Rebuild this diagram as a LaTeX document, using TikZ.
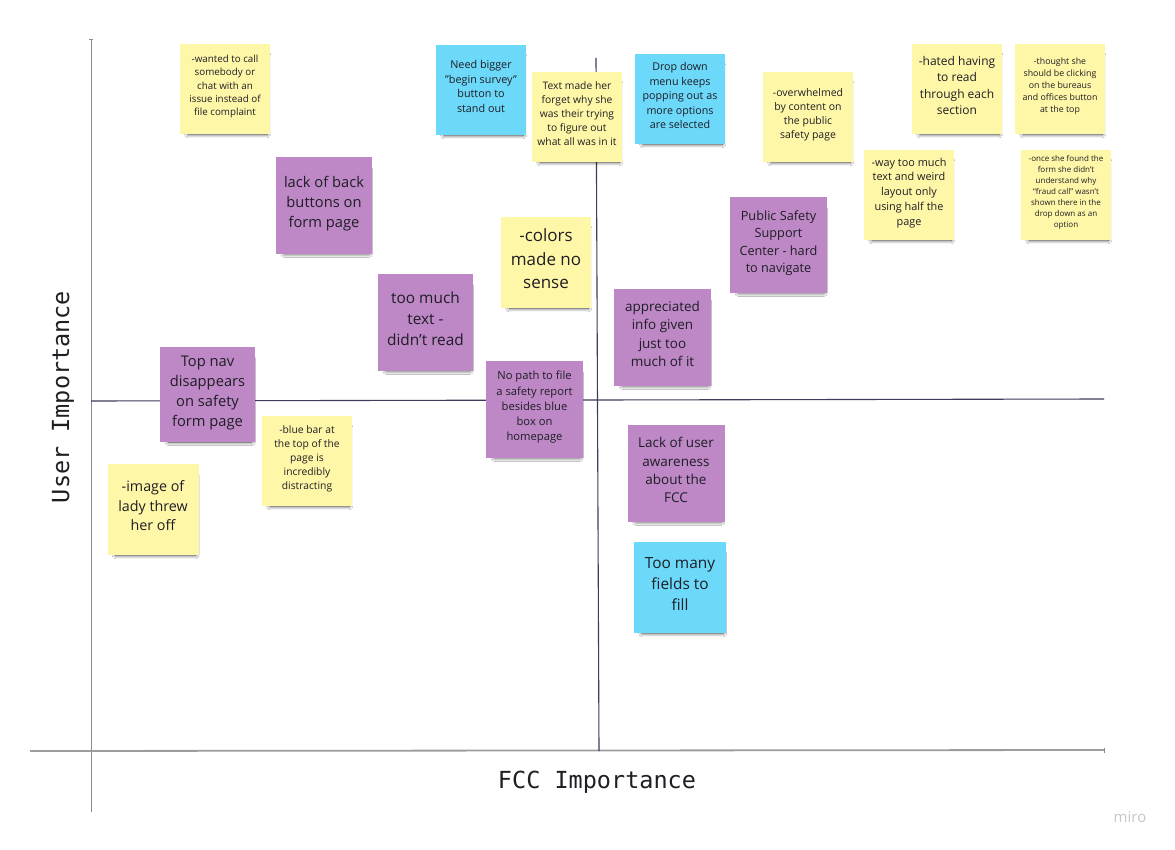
\documentclass[tikz,border=0pt]{standalone}
\usepackage{fontspec}
\setmainfont{Open Sans}
\newfontfamily\monof{DejaVu Sans Mono}
\usetikzlibrary{shadows.blur}
\definecolor{stkyellow}{HTML}{FFF7A8}
\definecolor{stkblue}{HTML}{6CD8FA}
\definecolor{stkviolet}{HTML}{BE88C7}
\definecolor{ink}{HTML}{1E1E24}
\definecolor{quadline}{HTML}{3C3C5C}
\definecolor{axisline}{HTML}{8A8A8A}
\newcommand{\sz}[2]{\fontsize{#1}{#2}\selectfont}
\newcommand{\sq}{\symbol{34}}
\newcommand{\ap}{\symbol{39}}
\tikzset{
  sticky/.style={minimum width=90pt, minimum height=90pt, inner sep=0pt,
    align=center, text=ink, text depth=7pt,
    blur shadow={shadow xshift=3pt, shadow yshift=-6.5pt, shadow scale=0.88,
      shadow opacity=80, shadow blur steps=8, shadow blur radius=4pt}},
  ylw/.style={sticky, fill=stkyellow},
  blu/.style={sticky, fill=stkblue},
  vio/.style={sticky, fill=stkviolet},
  quad/.style={draw=quadline, line width=1.1pt},
  axis/.style={draw=axisline, line width=1pt},
  axislabel/.style={font=\monof\fontsize{23.5}{26}\selectfont, text=ink}
}
\begin{document}
\begin{tikzpicture}[x=1pt,y=-1pt]
\useasboundingbox (0,0) rectangle (1175,850);
\fill[white] (0,0) rectangle (1175,850);

% axes
\coordinate (vtop) at (91,40);
\coordinate (vbot) at (91,812);
\coordinate (hleft) at (30,751);
\coordinate (hright) at (1104,750);
\draw[axis] (vtop) -- (vbot);
\draw[axis] ([xshift=-2pt]vtop) -- ([xshift=2pt]vtop);
\draw[axis, line width=1.8pt, draw=axisline!85] (hleft) -- (hright);
\draw[axis] ([yshift=-2.5pt]hright) -- ([yshift=2.5pt]hright);

% quadrant lines
\coordinate (qtop) at (596,58);
\coordinate (qbot) at (599,751);
\coordinate (qleft) at (91,401);
\coordinate (qright) at (1104,399);
\draw[quad] (qtop) -- (qbot);
\draw[quad] (qleft) -- (qright);

% axis labels
\node[axislabel, rotate=90] (ylab) at (63,397) {User Importance};
\node[axislabel] (xlab) at (597,782) {FCC Importance};
\node[text=black!22, font=\sz{15}{17}] (miro) at (1130,817) {miro};

% stickies
\node[ylw, font=\sz{9.8}{13.3}] (s1) at (225,89) {-wanted to call\\somebody or\\chat with an\\issue instead of\\file complaint};
\node[blu, font=\sz{10.8}{14.7}] (s2) at (481,90) {Need bigger\\\sq begin survey\sq\\button to\\stand out};
\node[ylw, font=\sz{10.3}{14}] (s3) at (577,117) {Text made her\\forget why she\\was their trying\\to figure out\\what all was in it};
\node[blu, font=\sz{10.7}{14.5}] (s4) at (680,99) {Drop down\\menu keeps\\popping out as\\more options\\are selected};
\node[ylw, font=\sz{10.5}{14.3}] (s5) at (808,117) {-overwhelmed\\by content on\\the public\\safety page};
\node[ylw, font=\sz{12}{16.3}] (s6) at (957,89) {-hated having\\to read\\through each\\section};
\node[ylw, font=\sz{8.8}{12}] (s7) at (1060,89) {-thought she\\should be clicking\\on the bureaus\\and offices button\\at the top};
\node[ylw, font=\sz{10.9}{14.8}] (s8) at (909,195) {-way too much\\text and weird\\layout only\\using half the\\page};
\node[ylw, font=\sz{8}{11}] (s9) at (1066,195) {-once she found the\\form she didn’t\\understand why\\“fraud call” wasn’t\\shown there in the\\drop down as an\\option};
\node[vio, minimum width=97pt, minimum height=96pt, font=\sz{12.7}{17.3}] (s10) at (778.5,245) {Public Safety\\Support\\Center - hard\\to navigate};
\node[vio, minimum width=96pt, minimum height=97pt, font=\sz{14.7}{20}] (s11) at (324,205.5) {lack of back\\buttons on\\form page};
\node[ylw, minimum height=91pt, font=\sz{17}{23.5}] (s12) at (546,262.5) {-colors\\made no\\sense};
\node[vio, minimum width=95pt, minimum height=97pt, font=\sz{15.4}{21}] (s13) at (425.5,322.5) {too much\\text -\\didn\ap t read};
\node[vio, minimum width=97pt, minimum height=97pt, font=\sz{13.5}{18.3}] (s14) at (662.5,337.5) {appreciated\\info given\\just too\\much of it};
\node[vio, minimum width=95pt, minimum height=95pt, font=\sz{14.7}{20}] (s15) at (207.5,394.5) {Top nav\\disappears\\on safety\\form page};
\node[ylw, font=\sz{10.3}{14}] (s16) at (307,461) {-blue bar at\\the top of the\\page is\\incredibly\\distracting};
\node[vio, minimum width=97pt, minimum height=97pt, font=\sz{11.2}{15.2}] (s17) at (534.5,409.5) {No path to file\\a safety report\\besides blue\\box on\\homepage};
\node[vio, minimum width=97pt, minimum height=97pt, font=\sz{13.5}{18.3}] (s18) at (676,473.5) {Lack of user\\awareness\\about the\\FCC};
\node[blu, minimum width=92pt, minimum height=91pt, font=\sz{15.4}{21}] (s19) at (680,587.5) {Too many\\fields to\\fill};
\node[ylw, minimum width=91pt, minimum height=91pt, font=\sz{14.3}{19.5}] (s20) at (153,509.5) {-image of\\lady threw\\her off};
\end{tikzpicture}
\end{document}
